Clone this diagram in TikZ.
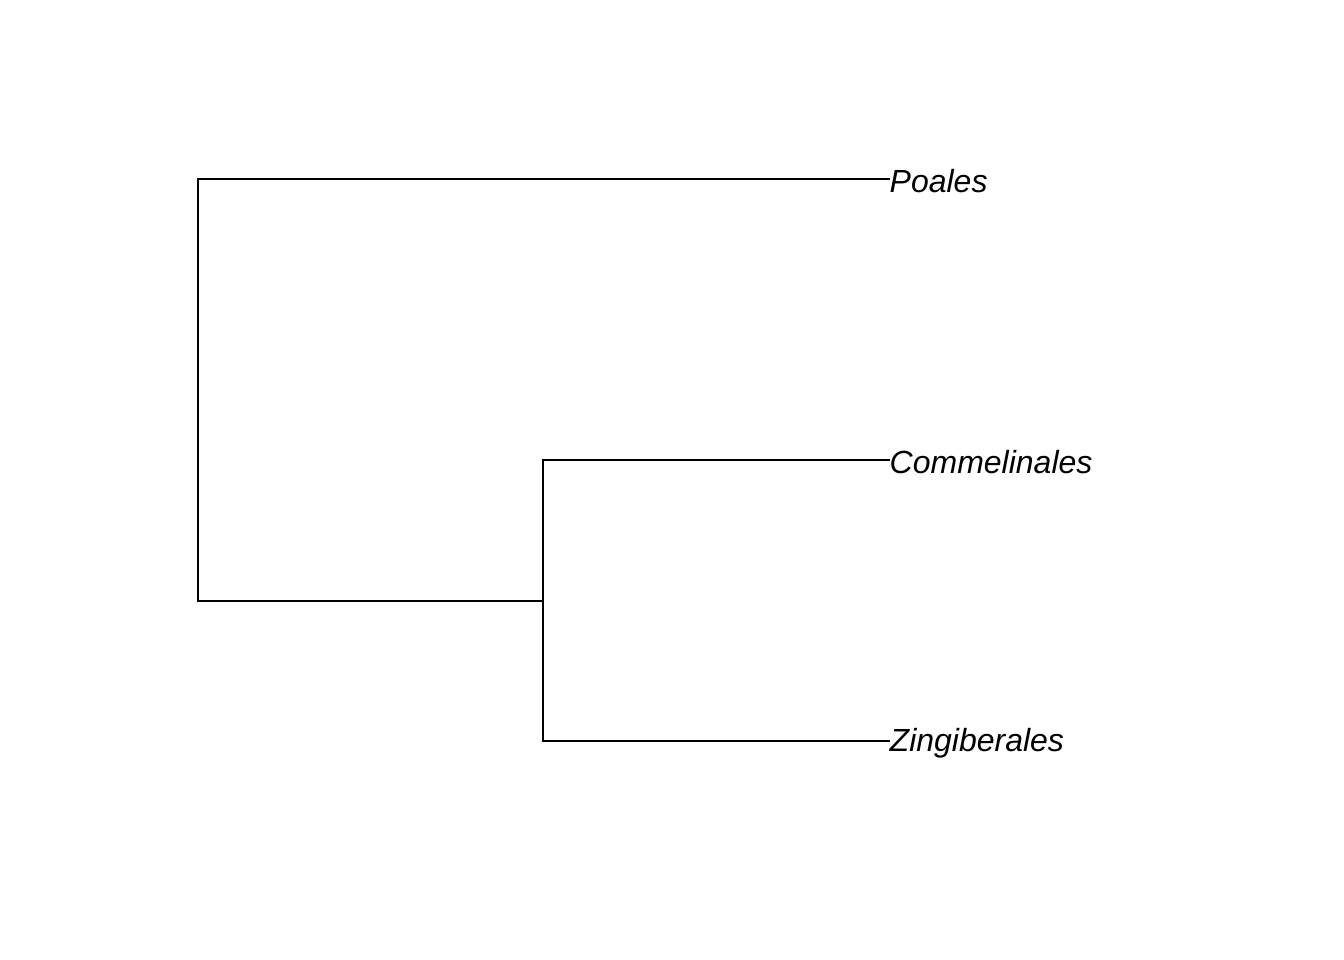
\documentclass[tikz,border=0pt]{standalone}
\usepackage{fontspec}
\setmainfont{Liberation Sans}
\usetikzlibrary{positioning}
\tikzset
{
    branch/.style = {line width=0.45pt, line cap=rect},
    taxon/.style  = {anchor=west, inner sep=0pt, font=\fontsize{9.1pt}{11pt}\selectfont\itshape},
}

\begin{document}
\begin{tikzpicture}[x=0.01cm, y=-0.01cm]
		\useasboundingbox (0,0) rectangle (1344,960);
		\coordinate (root) at (198,601);
		\coordinate (rootup) at (198,179);
		\coordinate (inner) at (543,601);
		\coordinate (innerup) at (543,460);
		\coordinate (innerdown) at (543,741);
		
		\node[taxon] (poa) at (889,181) {Poales};
		\node[taxon] (com) at (889,462) {Commelinales};
		\node[taxon] (zin) at (889,743) {Zingiberales};
		
		\draw[branch] (rootup) -- (root) -- (inner);
		\draw[branch] (rootup) -- (poa.west |- rootup);
		\draw[branch] (innerup) -- (innerdown);
		\draw[branch] (innerup) -- (com.west |- innerup);
		\draw[branch] (innerdown) -- (zin.west |- innerdown);
		
\end{tikzpicture}
\end{document}
